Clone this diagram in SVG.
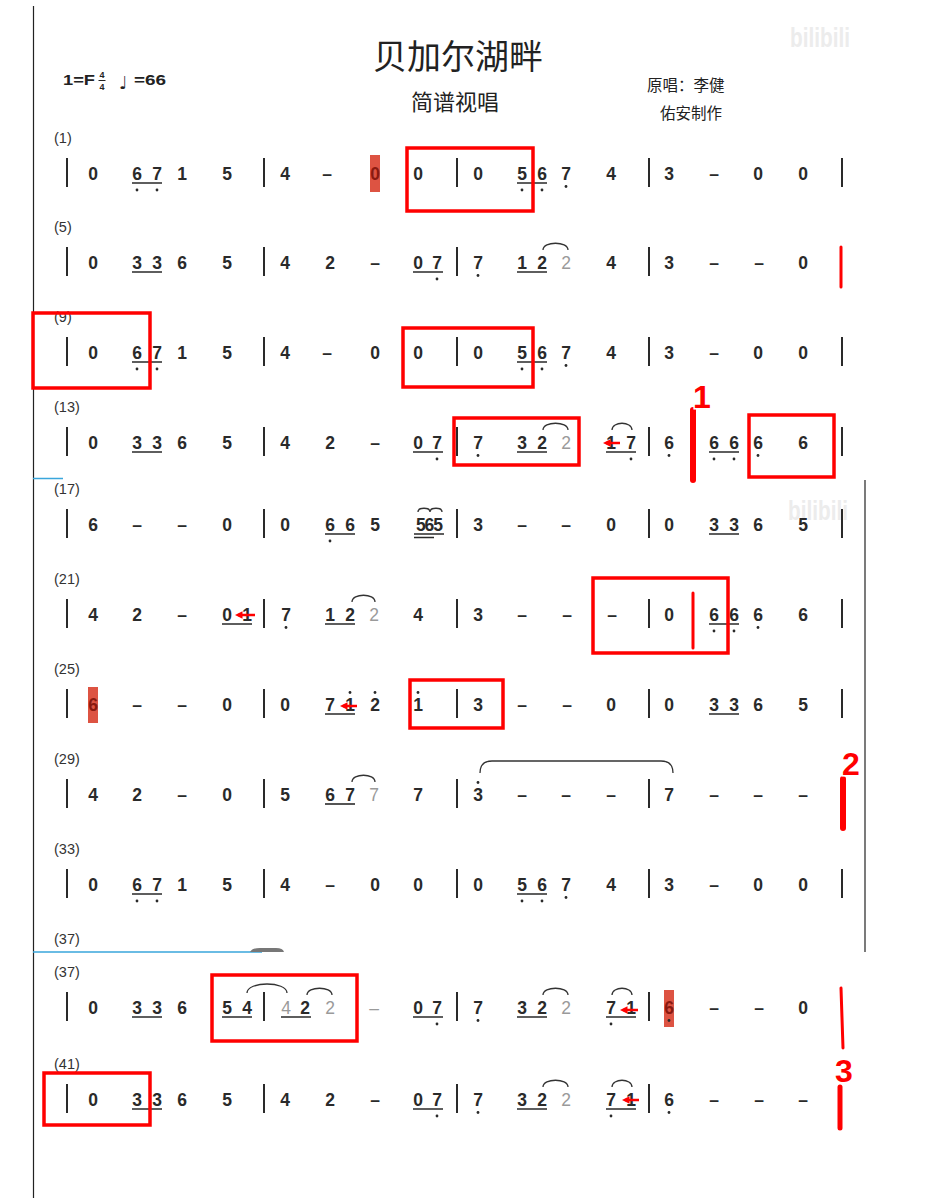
<svg xmlns="http://www.w3.org/2000/svg" width="935" height="1198" viewBox="0 0 935 1198">
<style>
.n{font-family:"Liberation Sans",Arial,sans-serif;font-size:17.5px;font-weight:bold;fill:#2a2a2a;text-anchor:middle}
.g{fill:#9a9a9a;font-weight:normal}
.hd{fill:#8a1a10}
.l{font-family:"Liberation Sans",Arial,sans-serif;font-size:14.5px;fill:#333}
.b{stroke:#2a2a2a;stroke-width:2;fill:none}
.u{stroke:#2a2a2a;stroke-width:1.6;fill:none}
.t{fill:none;stroke:#333;stroke-width:1.3}
.d{fill:#2a2a2a}
.hl{fill:#d9402e;opacity:.9}
.box{fill:none;stroke:#ff0000;stroke-width:3.5}
.rl{stroke:#ff0000;stroke-linecap:round;fill:none}
.ar{stroke:#ff0000;stroke-width:2.5;fill:none}
.cjk{font-family:"Noto Sans CJK SC","Noto Sans",sans-serif;fill:#222}
.num{font-family:"Liberation Sans",Arial,sans-serif;font-weight:bold;font-size:32px;fill:#ff0000;stroke:#fff;stroke-width:3;paint-order:stroke;text-anchor:middle}
.wm{font-family:"Liberation Sans",Arial,sans-serif;font-weight:bold;font-size:28px;fill:#ececec}
.hdr{font-family:"Liberation Sans",Arial,sans-serif;font-weight:bold;fill:#222}
</style>
<defs>
<marker id="ah" viewBox="0 0 10 10" refX="6" refY="5" markerWidth="3" markerHeight="3" orient="auto"><path d="M0,0L10,5L0,10z" fill="#ff0000"/></marker>
</defs>
<rect width="935" height="1198" fill="#fff"/>

<g id="page">
<path d="M33.5,6V1198" stroke="#222" stroke-width="1.2"/>
<path d="M865,480V952" stroke="#222" stroke-width="1.2"/>
<path d="M33,478.5H63M33,952H262" stroke="#3aa6dc" stroke-width="1.6"/>
<path d="M250,952Q252,948 260,948H276Q283,948 284,952Z" fill="#777"/>
<text class="wm" x="790" y="47" textLength="60" lengthAdjust="spacingAndGlyphs">bilibili</text>
<text class="wm" x="788" y="520" textLength="60" lengthAdjust="spacingAndGlyphs">bilibili</text>
</g>

<g id="header">
<text class="cjk" x="458" y="69" font-size="34" text-anchor="middle">贝加尔湖畔</text>
<text class="cjk" x="455" y="110" font-size="22" text-anchor="middle">简谱视唱</text>
<text class="cjk" x="647" y="91" font-size="15.5">原唱：李健</text>
<text class="cjk" x="660" y="119" font-size="15.5">佑安制作</text>
<text class="hdr" x="63" y="85" font-size="14" textLength="32" lengthAdjust="spacingAndGlyphs">1=F</text>
<text class="hdr" x="102" y="78" font-size="9" text-anchor="middle">4</text>
<path d="M98.5,80.5H105.5" stroke="#222" stroke-width="1"/>
<text class="hdr" x="102" y="90" font-size="9" text-anchor="middle">4</text>
<text x="119" y="89" font-family="DejaVu Sans,sans-serif" font-size="18" fill="#222">♩</text>
<text class="hdr" x="134" y="85" font-size="14" textLength="32" lengthAdjust="spacingAndGlyphs">=66</text>
</g>

<g id="row1" transform="translate(0,174)">
<text class="l" x="54" y="-31">(1)</text>
<path class="b" d="M67,-16v29M264,-16v29M457,-16v29M649,-16v29M842,-16v29"/>
<path class="u" d="M132,9h30M517,9h30"/>
<rect class="hl" x="370" y="-19" width="10" height="37"/>
<text class="n hd" x="375" y="6">0</text>
<text class="n" x="93 137 157 182 227" y="6">06715</text>
<text class="n" x="285 327" y="6">4–</text>
<text class="n" x="418" y="6">0</text>
<text class="n" x="478 522 542 566 611" y="6">05674</text>
<text class="n" x="669 714 758 803" y="6">3–00</text>
<circle class="d" cx="137" cy="16" r="1.4"/><circle class="d" cx="157" cy="16" r="1.4"/><circle class="d" cx="522" cy="16" r="1.4"/><circle class="d" cx="542" cy="16" r="1.4"/><circle class="d" cx="566" cy="12.5" r="1.4"/>
</g>

<g id="row2" transform="translate(0,263)">
<text class="l" x="54" y="-31">(5)</text>
<path class="b" d="M67,-16v29M264,-16v29M457,-16v29M649,-16v29"/>
<path class="u" d="M132,9h30M413,9h30M517,9h30"/>
<path class="t" d="M543,-13C543,-22 568,-22 568,-13"/>
<text class="n" x="93 137 157 182 227" y="6">03365</text>
<text class="n" x="285 330 375 418 437" y="6">42–07</text>
<text class="n" x="478 522 542" y="6">712</text>
<text class="n g" x="566" y="6">2</text>
<text class="n" x="611" y="6">4</text>
<text class="n" x="669 714 759 803" y="6">3––0</text>
<circle class="d" cx="437" cy="16" r="1.4"/><circle class="d" cx="478" cy="12.5" r="1.4"/>
</g>

<g id="row3" transform="translate(0,353)">
<text class="l" x="54" y="-31">(9)</text>
<path class="b" d="M67,-16v29M264,-16v29M457,-16v29M649,-16v29M842,-16v29"/>
<path class="u" d="M132,9h30M517,9h30"/>
<text class="n" x="93 137 157 182 227" y="6">06715</text>
<text class="n" x="285 327 375 418" y="6">4–00</text>
<text class="n" x="478 522 542 566 611" y="6">05674</text>
<text class="n" x="669 714 758 803" y="6">3–00</text>
<circle class="d" cx="137" cy="16" r="1.4"/><circle class="d" cx="157" cy="16" r="1.4"/><circle class="d" cx="522" cy="16" r="1.4"/><circle class="d" cx="542" cy="16" r="1.4"/><circle class="d" cx="566" cy="12.5" r="1.4"/>
</g>

<g id="row4" transform="translate(0,443)">
<text class="l" x="54" y="-31">(13)</text>
<path class="b" d="M67,-16v29M264,-16v29M457,-16v29M649,-16v29M842,-16v29"/>
<path class="u" d="M132,9h30M413,9h30M517,9h30M606,9h30M709,9h30"/>
<path class="t" d="M543,-13C543,-22 568,-22 568,-13M612,-13C612,-22 632,-22 632,-13"/>
<text class="n" x="93 137 157 182 227" y="6">03365</text>
<text class="n" x="285 330 375 418 437" y="6">42–07</text>
<text class="n" x="478 522 542" y="6">732</text>
<text class="n g" x="566" y="6">2</text>
<text class="n" x="611 631" y="6">17</text>
<text class="n" x="669 714 734 758 803" y="6">66666</text>
<circle class="d" cx="437" cy="16" r="1.4"/><circle class="d" cx="631" cy="16" r="1.4"/><circle class="d" cx="714" cy="16" r="1.4"/><circle class="d" cx="734" cy="16" r="1.4"/><circle class="d" cx="478" cy="12.5" r="1.4"/><circle class="d" cx="669" cy="12.5" r="1.4"/><circle class="d" cx="758" cy="12.5" r="1.4"/>
</g>

<g id="row5" transform="translate(0,525)">
<text class="l" x="54" y="-31">(17)</text>
<path class="b" d="M67,-16v29M264,-16v29M457,-16v29M649,-16v29M842,-16v29"/>
<path class="u" d="M325,9h30M709,9h30M414,9h30M414,12.5h20"/>
<path class="t" d="M418,-13C418,-18 430,-18 430,-13M430,-13C430,-18 442,-18 442,-13"/>
<text class="n" x="93 137 182 227" y="6">6––0</text>
<text class="n" x="285 330 350 375" y="6">0665</text>
<text class="n" x="429" y="6" letter-spacing="-1">565</text>
<text class="n" x="478 522 566 611" y="6">3––0</text>
<text class="n" x="669 714 734 758 803" y="6">03365</text>
<circle class="d" cx="330" cy="16" r="1.4"/>
</g>

<g id="row6" transform="translate(0,615)">
<text class="l" x="54" y="-31">(21)</text>
<path class="b" d="M67,-16v29M264,-16v29M457,-16v29M649,-16v29M842,-16v29"/>
<path class="u" d="M222,9h30M325,9h30M709,9h30"/>
<path class="t" d="M352,-13C352,-22 375,-22 375,-13"/>
<text class="n" x="93 137 182 227 247" y="6">42–01</text>
<text class="n" x="286 330 350" y="6">712</text>
<text class="n g" x="374" y="6">2</text>
<text class="n" x="418" y="6">4</text>
<text class="n" x="478 522 567 612" y="6">3–––</text>
<text class="n" x="669 714 734 758 803" y="6">06666</text>
<circle class="d" cx="714" cy="16" r="1.4"/><circle class="d" cx="734" cy="16" r="1.4"/><circle class="d" cx="286" cy="12.5" r="1.4"/><circle class="d" cx="758" cy="12.5" r="1.4"/>
</g>

<g id="row7" transform="translate(0,705)">
<text class="l" x="54" y="-31">(25)</text>
<path class="b" d="M67,-16v29M264,-16v29M457,-16v29M649,-16v29M842,-16v29"/>
<path class="u" d="M325,9h30M709,9h30"/>
<rect class="hl" x="88" y="-18" width="10" height="36"/>
<text class="n hd" x="93" y="6">6</text>
<text class="n" x="137 182 227" y="6">––0</text>
<text class="n" x="285 330 350 375 418" y="6">07121</text>
<text class="n" x="478 522 567 611" y="6">3––0</text>
<text class="n" x="669 714 734 758 803" y="6">03365</text>
<circle class="d" cx="350" cy="-12.5" r="1.4"/><circle class="d" cx="375" cy="-12.5" r="1.4"/><circle class="d" cx="418" cy="-12.5" r="1.4"/>
</g>

<g id="row8" transform="translate(0,795)">
<text class="l" x="54" y="-31">(29)</text>
<path class="b" d="M67,-16v29M264,-16v29M457,-16v29M649,-16v29"/>
<path class="u" d="M325,9h30"/>
<path class="t" d="M352,-13C352,-22 375,-22 375,-13M480,-22Q480,-34 492,-34L661,-34Q673,-34 673,-22"/>
<text class="n" x="93 137 182 227" y="6">42–0</text>
<text class="n" x="285 330 350" y="6">567</text>
<text class="n g" x="374" y="6">7</text>
<text class="n" x="418" y="6">7</text>
<text class="n" x="478 522 566 611" y="6">3–––</text>
<text class="n" x="669 714 758 803" y="6">7–––</text>
<circle class="d" cx="478" cy="-12.5" r="1.4"/>
</g>

<g id="row9" transform="translate(0,885)">
<text class="l" x="54" y="-31">(33)</text>
<path class="b" d="M67,-16v29M264,-16v29M457,-16v29M649,-16v29M842,-16v29"/>
<path class="u" d="M132,9h30M517,9h30"/>
<text class="n" x="93 137 157 182 227" y="6">06715</text>
<text class="n" x="285 330 375 418" y="6">4–00</text>
<text class="n" x="478 522 542 566 611" y="6">05674</text>
<text class="n" x="669 714 758 803" y="6">3–00</text>
<circle class="d" cx="137" cy="16" r="1.4"/><circle class="d" cx="157" cy="16" r="1.4"/><circle class="d" cx="522" cy="16" r="1.4"/><circle class="d" cx="542" cy="16" r="1.4"/><circle class="d" cx="566" cy="12.5" r="1.4"/>
</g>

<text id="label37a" class="l" x="54" y="944">(37)</text>

<g id="row10" transform="translate(0,1008)">
<text class="l" x="54" y="-31">(37)</text>
<path class="b" d="M67,-16v29M264,-16v29M457,-16v29M649,-16v29"/>
<path class="u" d="M132,9h30M222,9h30M281,9h30M413,9h30M517,9h30M606,9h30"/>
<path class="t" d="M247,-15C247,-27 287,-27 287,-15M307,-13C307,-22 332,-22 332,-13M543,-13C543,-22 568,-22 568,-13M612,-13C612,-22 632,-22 632,-13"/>
<rect class="hl" x="664" y="-18" width="10" height="37"/>
<text class="n hd" x="669" y="6">6</text>
<text class="n" x="93 137 157 182 227 247" y="6">033654</text>
<text class="n g" x="286" y="6">4</text>
<text class="n" x="305" y="6">2</text>
<text class="n g" x="330" y="6">2</text>
<text class="n g" x="374" y="6">–</text>
<text class="n" x="418 437" y="6">07</text>
<text class="n" x="478 522 542" y="6">732</text>
<text class="n g" x="566" y="6">2</text>
<text class="n" x="611 631" y="6">71</text>
<text class="n" x="714 759 803" y="6">––0</text>
<circle class="d" cx="437" cy="16" r="1.4"/><circle class="d" cx="611" cy="16" r="1.4"/><circle class="d" cx="478" cy="12.5" r="1.4"/><circle class="d" cx="669" cy="12.5" r="1.4" fill="#8a1a10"/>
</g>

<g id="row11" transform="translate(0,1100)">
<text class="l" x="54" y="-31">(41)</text>
<path class="b" d="M67,-16v29M264,-16v29M457,-16v29M649,-16v29"/>
<path class="u" d="M132,9h30M413,9h30M517,9h30M606,9h30"/>
<path class="t" d="M543,-13C543,-22 568,-22 568,-13M612,-13C612,-22 632,-22 632,-13"/>
<text class="n" x="93 137 157 182 227" y="6">03365</text>
<text class="n" x="285 330 375 418 437" y="6">42–07</text>
<text class="n" x="478 522 542" y="6">732</text>
<text class="n g" x="566" y="6">2</text>
<text class="n" x="611 631" y="6">71</text>
<text class="n" x="669 714 759 803" y="6">6–––</text>
<circle class="d" cx="437" cy="16" r="1.4"/><circle class="d" cx="611" cy="16" r="1.4"/><circle class="d" cx="478" cy="12.5" r="1.4"/><circle class="d" cx="669" cy="12.5" r="1.4"/>
</g>

<g id="annotations">
<rect class="box" x="407" y="148" width="126" height="63"/>
<rect class="box" x="33" y="313" width="117" height="75"/>
<rect class="box" x="403" y="328" width="130" height="59"/>
<rect class="box" x="454" y="418" width="125" height="47"/>
<rect class="box" x="749" y="415" width="85" height="62"/>
<rect class="box" x="593" y="578" width="135" height="75"/>
<rect class="box" x="410" y="680" width="93" height="48"/>
<rect class="box" x="212" y="975" width="145" height="66"/>
<rect class="box" x="44" y="1073" width="106" height="52"/>
<path class="rl" stroke-width="3" d="M841,247V287"/>
<path class="rl" stroke-width="6" d="M693,410V480"/>
<path class="rl" stroke-width="3" d="M693,593V648"/>
<path class="rl" stroke-width="6" d="M843,779V828"/>
<path class="rl" stroke-width="3" d="M841,988L843,1048"/>
<path class="rl" stroke-width="5" d="M840,1087V1128"/>
<text class="num" x="702" y="408">1</text>
<text class="num" x="851" y="775">2</text>
<text class="num" x="844" y="1082">3</text>
</g>

<g id="arrows">
<path class="ar" marker-end="url(#ah)" d="M620,443H606"/>
<path class="ar" marker-end="url(#ah)" d="M255,615H238"/>
<path class="ar" marker-end="url(#ah)" d="M357,706H343"/>
<path class="ar" marker-end="url(#ah)" d="M638,1010H623"/>
<path class="ar" marker-end="url(#ah)" d="M639,1100H625"/>
</g>
</svg>
